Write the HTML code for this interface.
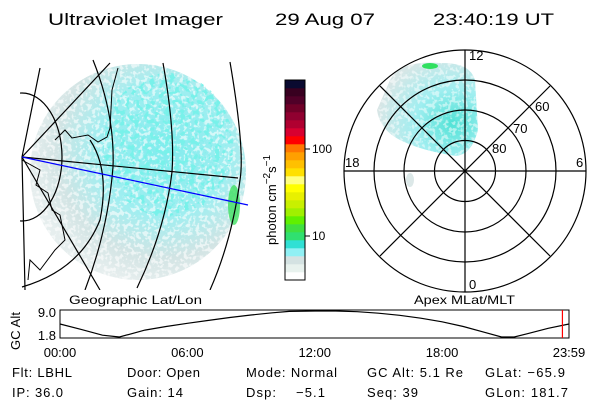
<!DOCTYPE html>
<html><head><meta charset="utf-8"><style>
html,body{margin:0;padding:0;background:#fff;}
svg{display:block;font-family:"Liberation Sans",sans-serif;}
</style></head><body>
<svg width="600" height="400" viewBox="0 0 600 400" xmlns="http://www.w3.org/2000/svg">
<defs>
<filter id="tex" x="0" y="0" width="100%" height="100%">
<feTurbulence type="fractalNoise" baseFrequency="0.2" numOctaves="2" seed="4" result="n"/>
<feColorMatrix in="n" type="matrix" values="0 0 0 0 0.19  0 0 0 0 0.88  0 0 0 0 0.82  0 0 0 10 -5.3" result="a"/>
<feComposite in="a" in2="SourceGraphic" operator="in"/>
</filter>
<filter id="tex2" x="0" y="0" width="100%" height="100%">
<feTurbulence type="fractalNoise" baseFrequency="0.25" numOctaves="2" seed="9" result="n"/>
<feColorMatrix in="n" type="matrix" values="0 0 0 0 1  0 0 0 0 1  0 0 0 0 1  0 0 0 8 -4" result="a"/>
<feComposite in="a" in2="SourceGraphic" operator="in"/>
</filter>
<radialGradient id="dg" cx="0.62" cy="0.4" r="0.62">
<stop offset="0" stop-color="#80ecee"/><stop offset="0.5" stop-color="#a0eef0"/><stop offset="0.8" stop-color="#d2e4e4"/><stop offset="1" stop-color="#e6eeee"/>
</radialGradient>
<radialGradient id="pg" cx="0.75" cy="0.65" r="0.75">
<stop offset="0" stop-color="#50e2d6"/><stop offset="0.5" stop-color="#a0eef0"/><stop offset="1" stop-color="#d8e6e6"/>
</radialGradient>
<clipPath id="mapclip"><rect x="20" y="45" width="230" height="245"/></clipPath>
<clipPath id="polclip"><circle cx="465" cy="171" r="121"/></clipPath>
</defs>

<g font-size="17" fill="#000">
<text x="48" y="25" textLength="175" lengthAdjust="spacingAndGlyphs">Ultraviolet Imager</text>
<text x="275" y="25" textLength="100" lengthAdjust="spacingAndGlyphs">29 Aug 07</text>
<text x="433" y="25" textLength="121" lengthAdjust="spacingAndGlyphs">23:40:19 UT</text>
</g>

<g clip-path="url(#mapclip)">
<circle cx="138" cy="172" r="108" fill="url(#dg)"/>
<circle cx="138" cy="172" r="108" fill="#fff" filter="url(#tex2)" opacity="0.6"/>
<ellipse cx="168" cy="145" rx="65" ry="72" fill="#fff" filter="url(#tex)"/>
<ellipse cx="234" cy="205" rx="6" ry="20" fill="#40e060" opacity="0.8"/>
<g fill="none" stroke="#000" stroke-width="1.2">
<path d="M230 62 Q245 150 240 180 Q232 240 210 290"/>
<path d="M163 63 Q175 130 172 172 Q165 230 137 288"/>
<path d="M93 60 Q115 115 113 167 Q108 230 85 290"/>
<path d="M40 68 L22 157 L25 290"/>
<path d="M22 157 L110 63"/>
<path d="M22 157 L100 290"/>
<path d="M22 157 L238 178"/>
<ellipse cx="22" cy="157" rx="40" ry="64"/>
<path d="M22 287 Q80 270 100 220 Q110 170 90 140"/>
</g>
<path d="M55 140 L65 130 L72 138 L88 135 L98 142 L107 137 L110 128 L112 90 L118 68 M22 160 L40 170 L36 185 L48 193 L52 210 L60 215 L65 240 L55 250 L40 270 L30 260 L28 280" fill="none" stroke="#000" stroke-width="1"/>
<line x1="22" y1="157" x2="248" y2="205" stroke="#0000ff" stroke-width="1.2"/>
</g>

<g id="cbar"></g>
<text transform="translate(276,245) rotate(-90)" font-size="13">photon cm<tspan dy="-6" font-size="10">−2</tspan><tspan dy="6">s</tspan><tspan dy="-6" font-size="10">−1</tspan></text>

<g>
<g clip-path="url(#polclip)">
<path d="M390 80 Q400 60 440 63 Q470 62 475 80 L478 130 Q470 160 450 155 Q420 150 400 140 Q380 130 377 110 Z" fill="url(#pg)"/>
<path d="M390 80 Q400 60 440 63 Q470 62 475 80 L478 130 Q470 160 450 155 Q420 150 400 140 Q380 130 377 110 Z" fill="#fff" filter="url(#tex2)" opacity="0.5"/>
<ellipse cx="430" cy="66" rx="8" ry="3" fill="#30e060"/>
<ellipse cx="410" cy="180" rx="4" ry="7" fill="#dce8e8"/>
</g>
<g fill="none" stroke="#000" stroke-width="1.2">
<circle cx="465" cy="171" r="30.5"/><circle cx="465" cy="171" r="61"/><circle cx="465" cy="171" r="91"/><circle cx="465" cy="171" r="121"/>
<line x1="465" y1="50" x2="465" y2="292"/><line x1="344" y1="171" x2="586" y2="171"/>
<line x1="380" y1="86" x2="550" y2="256"/><line x1="550" y1="86" x2="380" y2="256"/>
</g>
<g font-size="13">
<text x="469" y="60">12</text>
<text x="345" y="167">18</text>
<text x="576" y="167">6</text>
<text x="469" y="289">0</text>
<text x="535" y="111">60</text>
<text x="513" y="133">70</text>
<text x="492" y="153">80</text>
</g>
</g>

<g font-size="12">
<text x="69" y="304" textLength="133" lengthAdjust="spacingAndGlyphs">Geographic Lat/Lon</text>
<text x="414" y="304" textLength="101" lengthAdjust="spacingAndGlyphs">Apex MLat/MLT</text>
</g>

<g>
<rect x="60" y="310" width="509" height="28" fill="none" stroke="#000" stroke-width="1"/>
<path id="altline" fill="none" stroke="#000" stroke-width="1.2"/>
<line id="nowline" stroke="#ff0000" stroke-width="1.2"/>
<text transform="translate(20,350) rotate(-90)" font-size="13" textLength="38">GC Alt</text>
<g font-size="13" text-anchor="end">
<text x="56" y="317">9.0</text>
<text x="56" y="340">1.8</text>
</g>
<g id="xticks" font-size="13" text-anchor="middle"></g>
</g>

<g font-size="13" lengthAdjust="spacingAndGlyphs">
<text x="12" y="377" textLength="60">Flt: LBHL</text><text x="12" y="397" textLength="51">IP: 36.0</text>
<text x="127" y="377" textLength="73">Door: Open</text><text x="127" y="397" textLength="56">Gain: 14</text>
<text x="246" y="377" textLength="91">Mode: Normal</text><text x="246" y="397" textLength="79" xml:space="preserve">Dsp:    −5.1</text>
<text x="367" y="377" textLength="96">GC Alt: 5.1 Re</text><text x="367" y="397" textLength="51">Seq: 39</text>
<text x="485" y="377" textLength="80">GLat: −65.9</text><text x="485" y="397" textLength="83">GLon: 181.7</text>
</g>

<script>
const cbarColors=["#ffffff","#e8f2ee","#d4e2e2","#90f0f4","#30e0d4","#30e070","#40e040","#60f000","#a0f000","#c8f000","#e8f000","#ffff00","#ffff80","#ffe000","#ffc000","#ffa000","#ff7700","#ff0000","#d80030","#b00030","#900030","#700028","#500028","#380020","#0a0a30"];
const altHours=[0,1,2,2.8,4,5,6,7,8,9,10,10.8,12,13,14,15,16,17,18,19,20,20.8,21.4,22,23,23.98];
const altValues=[5.4,3.9,2.3,1.8,3.7,4.7,5.6,6.4,7.2,7.9,8.5,8.9,9.0,9.0,8.8,8.4,7.8,7.0,6.0,4.7,3.1,1.8,1.8,2.7,4.2,5.4];
const xTickLabels=["00:00","06:00","12:00","18:00","23:59"];
const xTickHours=[0,6,12,18,23.98];
const nowHour=23.67;
const NS="http://www.w3.org/2000/svg";
const xs=h=>60+h/23.98*509, ys=v=>337-(v-1.8)/(9.0-1.8)*26;
const cb=document.getElementById('cbar');
const top0=80,bh=200/cbarColors.length;
cbarColors.forEach((c,i)=>{const r=document.createElementNS(NS,'rect');
r.setAttribute('x',285);r.setAttribute('y',top0+200-(i+1)*bh);r.setAttribute('width',20);r.setAttribute('height',bh+0.3);r.setAttribute('fill',c);


cb.appendChild(r);});
const fr=document.createElementNS(NS,'rect');fr.setAttribute('x',285);fr.setAttribute('y',80);fr.setAttribute('width',20);fr.setAttribute('height',200);fr.setAttribute('fill','none');fr.setAttribute('stroke','#000');


cb.appendChild(fr);
[[236,'10'],[149,'100']].forEach(([y,t])=>{const tx=document.createElementNS(NS,'text');tx.setAttribute('x',312);tx.setAttribute('y',y+4);tx.setAttribute('font-size','12');tx.textContent=t;


cb.appendChild(tx);
const l=document.createElementNS(NS,'line');l.setAttribute('x1',305);l.setAttribute('x2',310);l.setAttribute('y1',y);l.setAttribute('y2',y);l.setAttribute('stroke','#000');


cb.appendChild(l);});
document.getElementById('altline').setAttribute('d',altHours.map((h,i)=>(i?'L':'M')+xs(h).toFixed(1)+' '+ys(altValues[i]).toFixed(1)).join(' '));
const nl=document.getElementById('nowline');nl.setAttribute('x1',xs(nowHour));nl.setAttribute('x2',xs(nowHour));nl.setAttribute('y1',310);nl.setAttribute('y2',338);
const xt=document.getElementById('xticks');
xTickLabels.forEach((t,i)=>{const tx=document.createElementNS(NS,'text');tx.setAttribute('x',xs(xTickHours[i]));tx.setAttribute('y',357);tx.textContent=t;


xt.appendChild(tx);});
</script>
</svg>
</body></html>
